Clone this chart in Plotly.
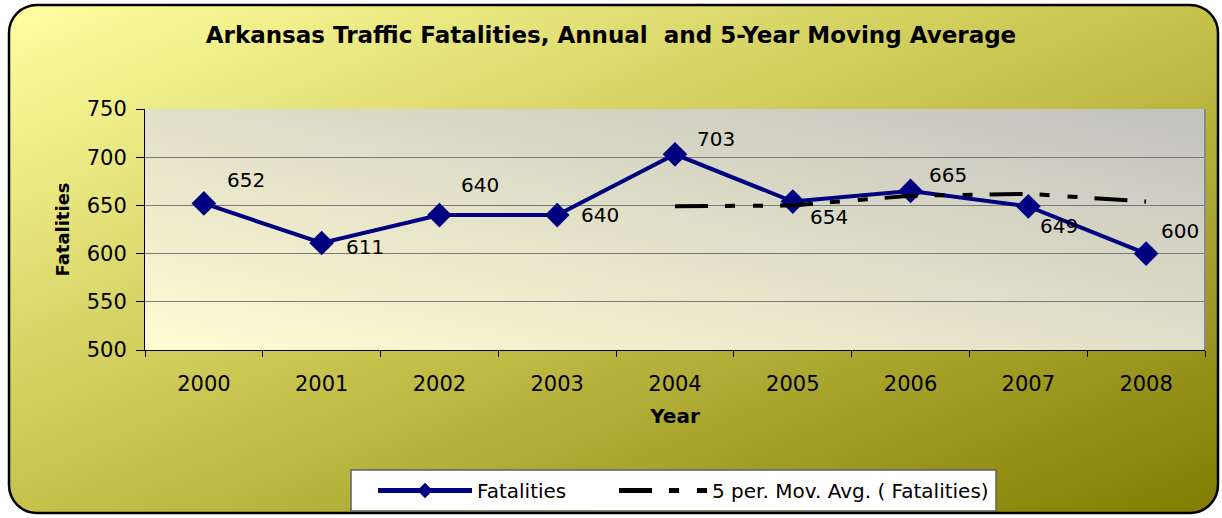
import base64
import plotly.graph_objects as go

years = ["2000", "2001", "2002", "2003", "2004", "2005", "2006", "2007", "2008"]
fatalities = [652, 611, 640, 640, 703, 654, 665, 649, 600]
ma_years = ["2004", "2005", "2006", "2007", "2008"]
moving_avg = [649, 650, 660, 662, 654]

W, H = 1222, 518
ML, MR, MT, MB = 145, 17, 109, 168
PW, PH = W - ML - MR, H - MT - MB

FONT = "DejaVu Sans, Verdana, sans-serif"


def px_x(px):
    return (px - ML) / PW


def px_y(py):
    return (MT + PH - py) / PH


def svg_uri(svg):
    return "data:image/svg+xml;base64," + base64.b64encode(svg.encode()).decode()


chart_bg = f"""<svg xmlns='http://www.w3.org/2000/svg' width='{W}' height='{H}' viewBox='0 0 {W} {H}'>
<defs><linearGradient id='g' x1='0' y1='0' x2='1' y2='1'>
<stop offset='0' stop-color='#FFFFA2'/><stop offset='0.5' stop-color='#C6C24C'/><stop offset='1' stop-color='#827C02'/>
</linearGradient></defs>
<rect x='9' y='5' width='1209' height='508' rx='28' ry='28' fill='url(#g)' stroke='#000' stroke-width='2.5'/>
</svg>"""

plot_bg = f"""<svg xmlns='http://www.w3.org/2000/svg' width='{PW}' height='{PH}' viewBox='0 0 {PW} {PH}' preserveAspectRatio='none'>
<defs><linearGradient id='p' x1='0' y1='1' x2='1' y2='0'>
<stop offset='0' stop-color='#FFFDD2'/><stop offset='1' stop-color='#C2C2BE'/>
</linearGradient></defs>
<rect x='0' y='0' width='{PW}' height='{PH}' fill='url(#p)'/>
</svg>"""

fig = go.Figure()
fig.add_trace(go.Scatter(
    x=years, y=fatalities, name="Fatalities", mode="lines+markers",
    line=dict(color="#000080", width=4),
    marker=dict(symbol="diamond", size=19, color="#000080"),
    legend="legend",
))
fig.add_trace(go.Scatter(
    x=ma_years, y=moving_avg, name="5 per. Mov. Avg. ( Fatalities)", mode="lines",
    line=dict(color="#000000", width=4, dash="33px,17px,10px,18px,10px,17px"),
    legend="legend2",
))

# data labels: category axis annotations use the category index
shifts = [(42, 23), (43, -4), (41, 30), (43, 0), (41, 15), (36, -15), (37, 16), (31, -20), (34, 23)]
for i, (y, (dx, dy)) in enumerate(zip(fatalities, shifts)):
    fig.add_annotation(x=i, y=y, text=str(y), showarrow=False, xshift=dx, yshift=dy,
                       font=dict(family=FONT, size=20, color="#000"))

legend_common = dict(orientation="h", xanchor="left", yanchor="top", y=px_y(471),
                     bgcolor="rgba(0,0,0,0)", borderwidth=0, itemsizing="constant",
                     font=dict(family=FONT, size=20, color="#000"))

fig.update_layout(
    width=W, height=H,
    margin=dict(l=ML, r=MR, t=MT, b=MB, autoexpand=False),
    paper_bgcolor="white", plot_bgcolor="rgba(0,0,0,0)",
    font=dict(family=FONT, size=20, color="#000"),
    title=dict(text="<b>Arkansas Traffic Fatalities, Annual  and 5-Year Moving Average</b>",
               x=0.5, xanchor="center", y=1 - 35 / H, yanchor="middle",
               font=dict(family=FONT, size=23, color="#000")),
    images=[
        dict(source=svg_uri(chart_bg), xref="paper", yref="paper",
             x=-ML / PW, y=1 + MT / PH, sizex=W / PW, sizey=H / PH,
             sizing="stretch", xanchor="left", yanchor="top", layer="below"),
        dict(source=svg_uri(plot_bg), xref="paper", yref="paper",
             x=0, y=1, sizex=1, sizey=1, sizing="stretch",
             xanchor="left", yanchor="top", layer="below"),
    ],
    xaxis=dict(type="category", tickson="boundaries", ticks="outside", ticklen=6,
               tickcolor="#000", showline=True, linecolor="#000", linewidth=1,
               showgrid=False, tickfont=dict(size=21), ticklabelstandoff=15,
               range=[-0.5, len(years) - 0.5],
               title=dict(text="<b>Year</b>", font=dict(size=20), standoff=13)),
    yaxis=dict(range=[500, 750], dtick=50, ticks="outside", ticklen=8, tickcolor="#000",
               showline=True, linecolor="#000", linewidth=1, gridcolor="#7a7a7a",
               gridwidth=1, zeroline=False, tickfont=dict(size=21), ticklabelstandoff=5,
               title=dict(text="<b>Fatalities</b>", font=dict(size=18), standoff=12)),
    showlegend=True,
    legend=dict(legend_common, x=px_x(373), itemwidth=94),
    legend2=dict(legend_common, x=px_x(614), itemwidth=88),
    shapes=[
        dict(type="line", xref="paper", yref="paper", x0=1, x1=1, y0=0, y1=1,
             line=dict(color="#8a8a8a", width=2)),
        dict(type="rect", xref="paper", yref="paper", layer="above",
             x0=px_x(351), x1=px_x(996), y0=px_y(511), y1=px_y(470),
             fillcolor="white", line=dict(color="#606060", width=1.5)),
    ],
)

fig.write_html("out.html", config={"displayModeBar": False},
               post_script="document.body.style.margin='0';")
